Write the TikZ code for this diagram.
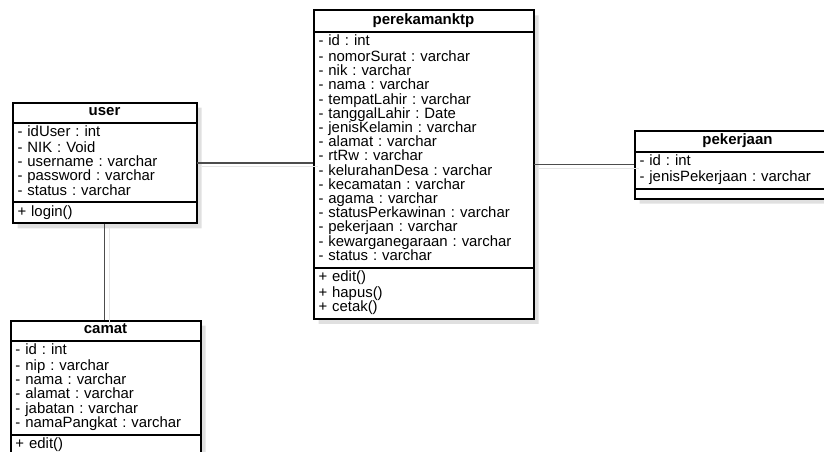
\documentclass[tikz,border=0pt]{standalone}
\usepackage{fontspec}
\setmainfont{Liberation Sans}
\usetikzlibrary{shapes.multipart,shadows}

\begin{document}
\begin{tikzpicture}[x=1pt, y=-1pt,
        umlclass/.style={rectangle split, rectangle split parts=3, anchor=north west, draw=black!70, line width=1pt, fill=white,
            inner xsep=5pt, inner ysep=2.5pt, font=\fontsize{14.9pt}{14.2pt}\selectfont\frenchspacing,
            drop shadow={shadow xshift=5pt, shadow yshift=-5pt, fill=black!12, opacity=1},
            postaction={draw=black, line width=2pt}},
        assoc/.style={draw=black!70, line width=1.3pt, preaction={draw=black!10, line width=1pt, transform canvas={shift={(5pt,-4pt)}}}}
    ]
        \useasboundingbox (0,0) rectangle (824,452);

        \node[umlclass, text width=174pt] (user) at (12,102) {\centering\strut\textbf{\fontsize{15pt}{14.2pt}\selectfont user}\par
            \nodepart{two}\strut- idUser : int\\- NIK : Void\\- username : varchar\\- password : varchar\\- status : varchar\strut
            \nodepart{three}\strut+ login()};
        \node[umlclass, text width=180pt] (camat) at (10,320) {\centering\strut\textbf{\fontsize{15pt}{14.2pt}\selectfont camat}\par
            \nodepart{two}\strut- id : int\\- nip : varchar\\- nama : varchar\\- alamat : varchar\\- jabatan : varchar\\- namaPangkat : varchar\strut
            \nodepart{three}\strut+ edit()};
        \node[umlclass, text width=210pt] (perekamanktp) at (313,10) {\centering\strut\textbf{\fontsize{15pt}{14.2pt}\selectfont perekamanktp}\par
            \nodepart{two}\strut- id : int\\- nomorSurat : varchar\\- nik : varchar\\- nama : varchar\\- tempatLahir : varchar\\- tanggalLahir : Date\\- jenisKelamin : varchar\\- alamat : varchar\\- rtRw : varchar\\- kelurahanDesa : varchar\\- kecamatan : varchar\\- agama : varchar\\- statusPerkawinan : varchar\\- pekerjaan : varchar\\- kewarganegaraan : varchar\\- status : varchar\strut
            \nodepart{three}\strut+ edit()\\+ hapus()\\+ cetak()\strut};
        \node[umlclass, text width=196pt] (pekerjaan) at (634,130) {\centering\strut\textbf{\fontsize{15pt}{14.2pt}\selectfont pekerjaan}\par
            \nodepart{two}\strut- id : int\\- jenisPekerjaan : varchar\strut
            \nodepart{three}\rule{0pt}{4pt}};

        \draw[assoc] (user.east) -- (user.east -| perekamanktp.west);
        \draw[assoc] (perekamanktp.east |- pekerjaan.west) -- (pekerjaan.west);
        \draw[assoc] (user.south) -- (user.south |- camat.north);
    \end{tikzpicture}
\end{document}
